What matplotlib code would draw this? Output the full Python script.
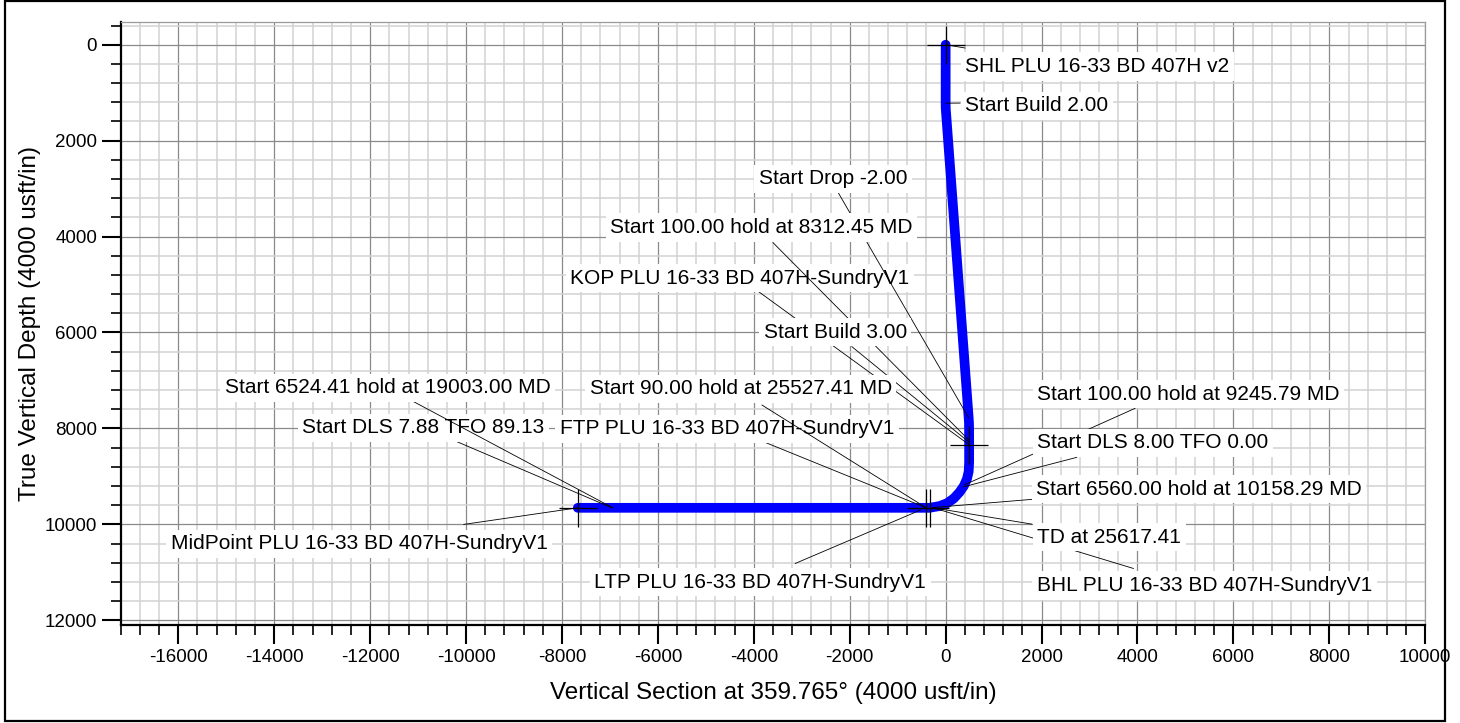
import matplotlib
matplotlib.use('Agg')
import matplotlib.pyplot as plt
from matplotlib.ticker import MultipleLocator
from matplotlib.patches import Rectangle

plt.rcParams['font.family'] = ['Liberation Sans', 'DejaVu Sans']
plt.rcParams['axes.unicode_minus'] = False

# ---- well path: vertical section (usft) vs true vertical depth (usft) ----
path_vs = [0, 0, 2, 10, 480, 487, 489, 490, 490, 480, 445, 380, 290, 170, 30,
           -130, -340, -7670]
path_tvd = [0, 1220, 1330, 1440, 7780, 7890, 8000, 8300, 8700, 8900, 9050, 9200,
            9330, 9460, 9560, 9620, 9656, 9656]

# ---- target crosses (SHL, KOP, FTP, LTP, end of lateral) ----
target_vs = [0, 480, -405, -325, -7670]
target_tvd = [0, 8345, 9656, 9656, 9656]

# ---- annotations: text, point on path it refers to ----
note_text = [
    "SHL PLU 16-33 BD 407H v2",
    "KOP PLU 16-33 BD 407H-SundryV1",
    "FTP PLU 16-33 BD 407H-SundryV1",
    "LTP PLU 16-33 BD 407H-SundryV1",
    "MidPoint PLU 16-33 BD 407H-SundryV1",
    "BHL PLU 16-33 BD 407H-SundryV1",
    "Start Build 2.00",
    "Start Drop -2.00",
    "Start 100.00 hold at 8312.45 MD",
    "Start Build 3.00",
    "Start 100.00 hold at 9245.79 MD",
    "Start DLS 8.00 TFO 0.00",
    "Start 6560.00 hold at 10158.29 MD",
    "Start DLS 7.88 TFO 89.13",
    "Start 6524.41 hold at 19003.00 MD",
    "Start 90.00 hold at 25527.41 MD",
    "TD at 25617.41",
]
note_vs = [0, 490, -405, -520, -7670, -260, 0, 480, 490, 490, 385, 365, -260,
           -6960, -6940, -405, -260]
note_tvd = [0, 8340, 9656, 9700, 9656, 9656, 1220, 7780, 8250, 8290, 9180, 9220,
            9650, 9656, 9656, 9656, 9656]

# label placement (text left edge, baseline) and where each leader leaves its label
label_x = [406, -7826, -8048, -7325, -16161, 1901, 406, -3901, -6992, -3797, 1913,
           1913, 1886, -13417, -15036, -7423, 1913]
label_y = [570, 4980, 8120, 11320, 10520, 11390, 1386, 2914, 3926, 6113, 7403,
           8419, 9385, 8100, 7271, 7292, 10380]
leader_x = [406, -3901, -3797, -3136, -10049, 3914, 302, -2234, -3601, -1955, 3949,
            2734, 1796, -10187, -11091, -3830, 1796]
leader_y = [69, 5148, 8278, 10816, 10002, 10920, 1217, 3095, 4126, 6296, 7582,
            8604, 9480, 8278, 7444, 7513, 9996]

fig = plt.figure(figsize=(14.6, 7.23), dpi=100)
ax = fig.add_axes([0.0827, 0.1355, 0.8935, 0.8345])

ax.set_xlim(-17200, 10000)
ax.set_ylim(12100, -480)

ax.xaxis.set_major_locator(MultipleLocator(2000))
ax.xaxis.set_minor_locator(MultipleLocator(400))
ax.yaxis.set_major_locator(MultipleLocator(2000))
ax.yaxis.set_minor_locator(MultipleLocator(400))

ax.grid(which='minor', color='#d2d2d2', linewidth=1.1, zorder=0)
ax.grid(which='major', color='#8a8a8a', linewidth=0.9, zorder=0)
ax.set_axisbelow(True)

ax.tick_params(which='major', direction='out', length=14, width=1.5, labelsize=13.5,
               pad=3, colors='black')
ax.tick_params(which='minor', direction='out', length=7, width=1.2)

for side in ('left', 'bottom'):
    ax.spines[side].set_linewidth(1.6)
for side in ('top', 'right'):
    ax.spines[side].set_color('#9a9a9a')
    ax.spines[side].set_linewidth(0.9)

ax.set_xlabel("Vertical Section at 359.765\u00b0 (4000 usft/in)", fontsize=17.5)
ax.set_ylabel("True Vertical Depth (4000 usft/in)", fontsize=17.5, va='center')
ax.xaxis.set_label_coords(0.5, -0.094)
ax.yaxis.set_label_coords(-0.0695, 0.5)

# well path
ax.plot(path_vs, path_tvd, color='#0000ff', linewidth=7, solid_capstyle='round',
        solid_joinstyle='round', zorder=3)

# target crosses
ax.plot(target_vs, target_tvd, linestyle='none', marker='+', markersize=27,
        markeredgewidth=0.9, color='black', zorder=4)

# leader lines and labels, each later note drawn on top of the earlier ones
for i, txt in enumerate(note_text):
    z = 5 + 2 * i
    ax.plot([leader_x[i], note_vs[i]], [leader_y[i], note_tvd[i]], color='black',
            linewidth=0.6, zorder=z)
    ax.text(label_x[i], label_y[i], txt, fontsize=15, ha='left', va='baseline',
            zorder=z + 1,
            bbox=dict(boxstyle='square,pad=0.22', facecolor='white', edgecolor='none'))

# outer frame
fig.patches.append(Rectangle((0.0034, 0.003), 0.9863, 0.995, transform=fig.transFigure,
                             fill=False, edgecolor='black', linewidth=1.6))

fig.savefig('out.png', dpi=100)
